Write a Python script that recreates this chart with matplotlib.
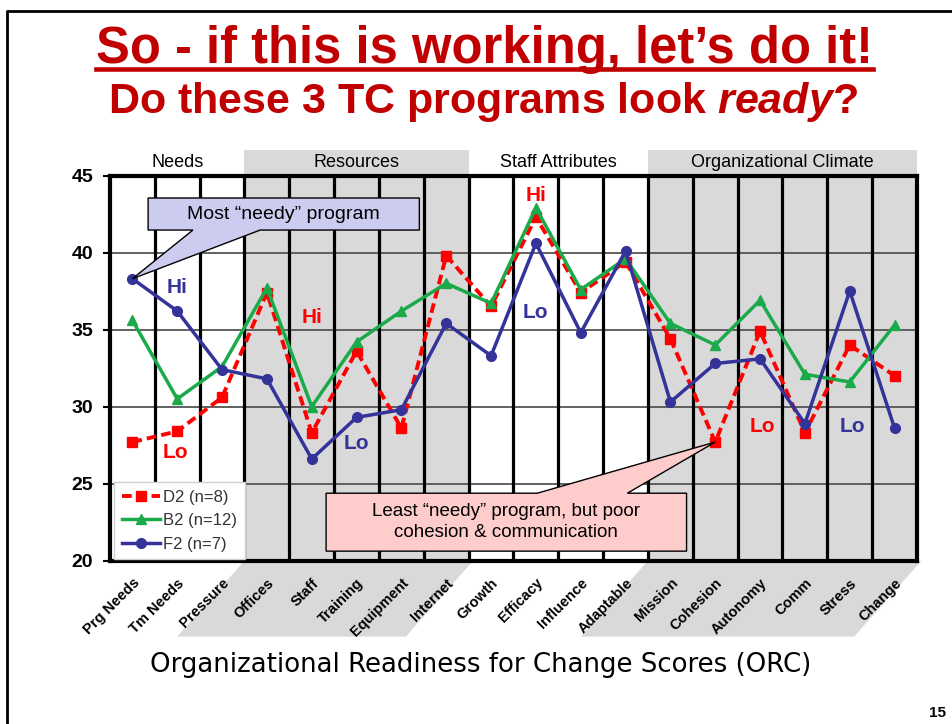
import matplotlib
matplotlib.use('Agg')
import matplotlib.pyplot as plt
import matplotlib.transforms as mtransforms
from matplotlib.patches import Rectangle, Polygon
from matplotlib.lines import Line2D

plt.rcParams['font.family'] = ['Liberation Sans', 'DejaVu Sans']
plt.rcParams['mathtext.fontset'] = 'custom'
plt.rcParams['mathtext.it'] = 'Liberation Sans:bold:italic'
plt.rcParams['mathtext.rm'] = 'Liberation Sans:bold'

# ORC scores for the three programs
categories = ['Prg Needs', 'Tm Needs', 'Pressure', 'Offices', 'Staff', 'Training',
              'Equipment', 'Internet', 'Growth', 'Efficacy', 'Influence', 'Adaptable',
              'Mission', 'Cohesion', 'Autonomy', 'Comm', 'Stress', 'Change']
d2 = [27.7, 28.4, 30.6, 37.4, 28.3, 33.6, 28.6, 39.8, 36.5, 42.3, 37.4, 39.4,
      34.4, 27.7, 34.9, 28.3, 34.0, 32.0]
b2 = [35.6, 30.5, 32.6, 37.7, 30.0, 34.2, 36.2, 38.0, 36.7, 42.9, 37.6, 39.6,
      35.4, 34.0, 36.9, 32.1, 31.6, 35.3]
f2 = [38.3, 36.2, 32.4, 31.8, 26.6, 29.3, 29.8, 35.4, 33.3, 40.6, 34.8, 40.1,
      30.3, 32.8, 33.1, 28.9, 37.5, 28.6]

groups = ['Needs', 'Resources', 'Staff Attributes', 'Organizational Climate']
group_sizes = [3, 5, 4, 6]
group_shaded = [False, True, False, True]

# Hi / Lo notes: text, series, x, y
notes = [('Hi', 'f2', 1.0, 37.7), ('Lo', 'd2', 0.95, 27.05),
         ('Hi', 'd2', 4.0, 35.8), ('Lo', 'f2', 5.0, 27.6),
         ('Hi', 'd2', 9.0, 43.7), ('Lo', 'f2', 9.0, 36.1),
         ('Lo', 'd2', 14.05, 28.7), ('Lo', 'f2', 16.05, 28.7)]

red = '#ff0000'
green = '#1aaa4a'
navy = '#333399'
title_red = '#c00000'
gray = '#d9d9d9'
colors = {'d2': red, 'b2': green, 'f2': navy}

W, H = 953, 724
fig = plt.figure(figsize=(W / 100, H / 100), dpi=100)

def px(x):
    return x / W

def py(y):
    return 1 - y / H

ax = fig.add_axes([px(110), py(560.7), px(807), 385.2 / H])
x = list(range(len(categories)))
ax.set_xlim(-0.5, len(categories) - 0.5)
ax.set_ylim(20, 45)

blend = mtransforms.blended_transform_factory(ax.transData, ax.transAxes)

# group shading, header bands and the skewed band under the tick labels
start = -0.5
for name, size, shaded in zip(groups, group_sizes, group_shaded):
    end = start + size
    if shaded:
        ax.axvspan(start, end, color=gray, zorder=0, lw=0)
        ax.add_patch(Rectangle((start, 1), size, 0.066, transform=blend,
                               color=gray, lw=0, clip_on=False, zorder=0))
        ax.add_patch(Polygon([(start, 0), (end + 0.1, 0), (end - 1.4, -0.197),
                              (start - 1.5, -0.197)], closed=True, transform=blend,
                             color=gray, lw=0, clip_on=False, zorder=0))
    ax.text((start + end) / 2, 1.033, name, transform=blend, ha='center',
            va='center', fontsize=13)
    start = end

for b in range(len(categories) - 1):
    ax.axvline(b + 0.5, color='black', lw=2.3, zorder=1.5)
for yv in [25, 30, 35, 40]:
    ax.axhline(yv, color='#555555', lw=1.3, zorder=1)

for sp in ax.spines.values():
    sp.set_linewidth(3)
    sp.set_color('black')
    sp.set_zorder(2)

ax.plot(x, d2, color=red, ls=(0, (2.5, 1.3)), lw=2.8, marker='s', ms=7.5,
        label='D2 (n=8)', zorder=3)
ax.plot(x, b2, color=green, lw=2.5, marker='^', ms=7.5, label='B2 (n=12)', zorder=3.2)
ax.plot(x, f2, color=navy, lw=2.5, marker='o', ms=7, label='F2 (n=7)', zorder=3.4)

for txt, s, nx, ny in notes:
    ax.text(nx, ny, txt, color=colors[s], fontsize=15, fontweight='bold',
            ha='center', va='center', zorder=4)

leg = ax.legend(loc='lower left', bbox_to_anchor=(0.003, 0.0), fontsize=12,
                frameon=True, fancybox=False, edgecolor='#d0d0d0', framealpha=1,
                handlelength=2.3, borderaxespad=0.1, borderpad=0.45,
                labelspacing=0.5, handletextpad=0.2)
for t in leg.get_texts():
    t.set_color('#333333')
leg.set_zorder(4)

ax.set_yticks([20, 25, 30, 35, 40, 45])
ax.set_yticklabels(['20', '25', '30', '35', '40', '45'], fontsize=14, fontweight='bold')
ax.tick_params(axis='y', direction='out', length=5, width=1.5, pad=7)
ax.set_xticks(x)
ax.set_xticklabels(categories, rotation=45, ha='right', rotation_mode='anchor',
                   fontsize=10.5, fontweight='bold')
ax.tick_params(axis='x', length=0, pad=11)

# callout boxes
most = Polygon([(0.35, 43.54), (6.4, 43.54), (6.4, 41.46), (2.85, 41.46),
                (0, f2[0]), (1.35, 41.46), (0.35, 41.46)], closed=True,
               facecolor='#ccccf0', edgecolor='black', lw=1, zorder=5, clip_on=False)
ax.add_patch(most)
ax.text(3.37, 42.5, 'Most \u201cneedy\u201d program', ha='center', va='center',
        fontsize=14, zorder=6)

least = Polygon([(4.32, 24.38), (9.03, 24.38), (13, d2[13]), (11.04, 24.38),
                 (12.36, 24.38), (12.36, 20.62), (4.32, 20.62)], closed=True,
                facecolor='#ffcccc', edgecolor='black', lw=1, zorder=5, clip_on=False)
ax.add_patch(least)
ax.text(8.34, 22.5, 'Least \u201cneedy\u201d program, but poor\ncohesion & communication',
        ha='center', va='center', fontsize=13.5, linespacing=1.3, zorder=6)

# titles
t1 = fig.text(px(484.5), py(63), 'So - if this is working, let\u2019s do it!',
              ha='center', va='baseline', fontsize=36.5, fontweight='bold',
              color=title_red)
fig.text(px(482.5), py(113), r'Do these 3 TC programs look $\mathit{ready}$?',
         ha='center', va='baseline', fontsize=31, fontweight='bold', color=title_red)

fig.text(px(481), py(665), 'Organizational Readiness for Change Scores (ORC)',
         ha='center', va='center', fontsize=18.7, family='DejaVu Sans')
fig.text(px(938), py(713), '15', ha='center', va='center', fontsize=11,
         fontweight='bold')

renderer = fig.canvas.get_renderer()
bb = t1.get_window_extent(renderer)
fig.add_artist(Line2D([bb.x0 / W, bb.x1 / W], [py(68.5), py(68.5)], lw=3.3,
                      color=title_red, transform=fig.transFigure))

# slide frame
fig.add_artist(Line2D([px(7), px(7), 1], [0, py(10.5), py(10.5)], lw=2,
                      color='black', transform=fig.transFigure))

fig.savefig('out.png', dpi=100)
